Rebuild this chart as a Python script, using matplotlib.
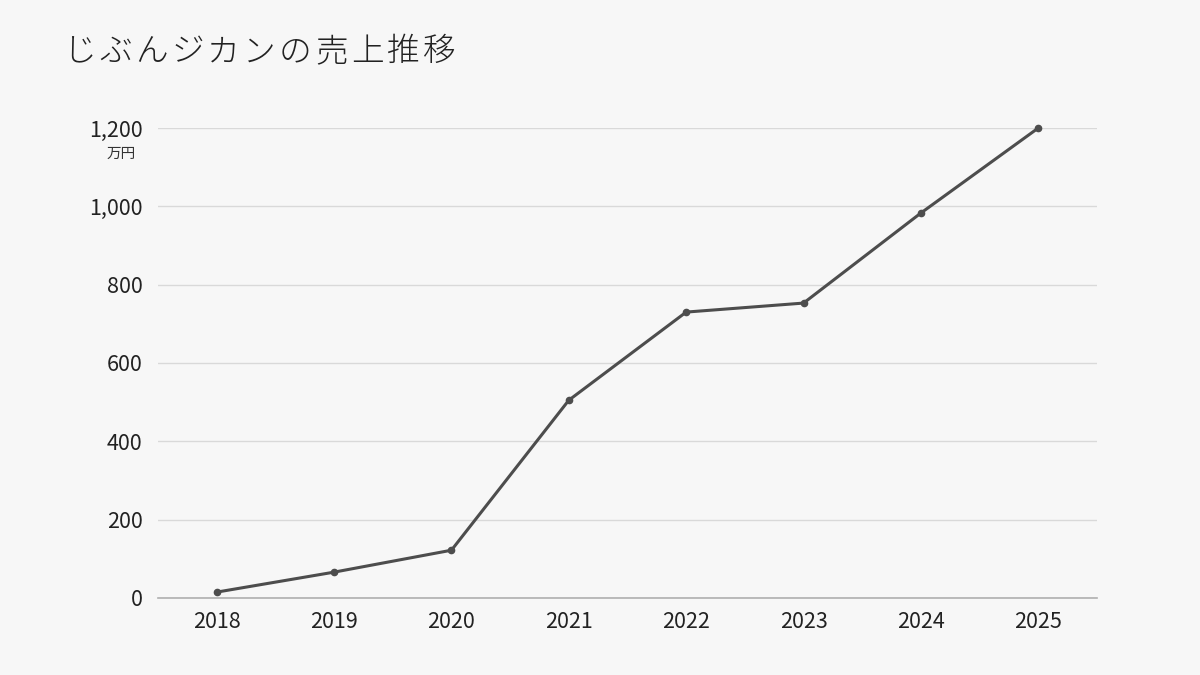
import matplotlib.pyplot as plt

# データ
years = ["2018", "2019", "2020", "2021", "2022", "2023", "2024", "2025"]
sales = [15, 66, 122, 505, 730, 753, 983, 1200]
yticks = [0, 200, 400, 600, 800, 1000, 1200]
title = "じぶんジカンの売上推移"
unit = "万円"

BG = "#f7f7f7"
LINE = "#4d4d4d"

plt.rcParams["font.family"] = ["Noto Sans CJK JP", "DejaVu Sans"]

fig = plt.figure(figsize=(12, 6.75), dpi=100, facecolor=BG)
ax = fig.add_axes([158 / 1200, 1 - 598 / 675, (1097 - 158) / 1200, 470 / 675])
ax.set_facecolor(BG)

x = list(range(len(years)))
ax.plot(x, sales, color=LINE, linewidth=2.2, marker="o", markersize=4.5,
        zorder=3, clip_on=False)

ax.set_xlim(-0.5, len(years) - 0.5)
ax.set_ylim(0, 1200)
ax.set_xticks(x)
ax.set_xticklabels(years)
ax.set_yticks(yticks)
ax.set_yticklabels([f"{v:,}" for v in yticks])
ax.tick_params(axis="both", length=0, labelsize=15.5, colors="#222222")
ax.tick_params(axis="x", pad=9)
ax.tick_params(axis="y", pad=11)

ax.grid(axis="y", color="#d9d9d9", linewidth=1)
ax.set_axisbelow(True)
for s in ["top", "right", "left"]:
    ax.spines[s].set_visible(False)
ax.spines["bottom"].set_color("#b0b0b0")
ax.spines["bottom"].set_linewidth(1.2)

# 単位
fig.text(121 / 1200, 1 - 154 / 675, unit, fontsize=10.5, color="#333333",
         ha="center", va="center")

# タイトル (文字間隔を広めに)
tx = 63
for ch in title:
    fig.text(tx / 1200, 1 - 52 / 675, ch, fontsize=23.5, color="#222222",
             ha="left", va="center", fontweight="light")
    tx += 36

fig.savefig("out.png", dpi=100, facecolor=BG)
